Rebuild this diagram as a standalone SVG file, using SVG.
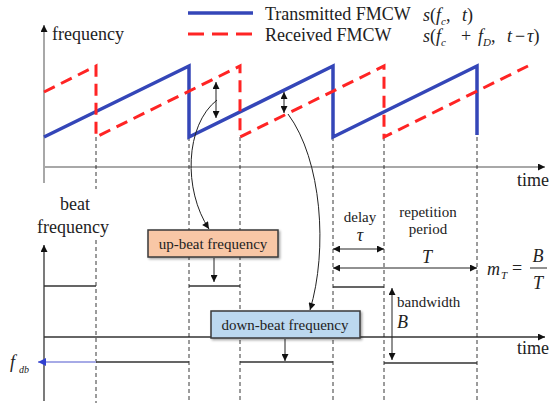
<svg xmlns="http://www.w3.org/2000/svg" width="550" height="407" viewBox="0 0 550 407">
  <defs>
    <marker id="arr" viewBox="0 0 10 10" refX="10" refY="5" markerWidth="8" markerHeight="7" markerUnits="userSpaceOnUse" orient="auto-start-reverse">
      <path d="M0,0 L10,5 L0,10 z" fill="#111"/>
    </marker>
    <marker id="arrBlue" viewBox="0 0 10 10" refX="10" refY="5" markerWidth="9" markerHeight="8" markerUnits="userSpaceOnUse" orient="auto-start-reverse">
      <path d="M0,0 L10,5 L0,10 z" fill="#3040d0"/>
    </marker>
    <filter id="shadow" x="-10%" y="-20%" width="120%" height="150%">
      <feDropShadow dx="1.5" dy="1.5" stdDeviation="1" flood-color="#000" flood-opacity="0.35"/>
    </filter>
  </defs>
  <style>
    text { font-family: "Liberation Serif", "Times New Roman", serif; fill: #222; }
    .lbl { font-size: 18px; }
    .sm { font-size: 15px; }
    .it { font-style: italic; }
    .sub { font-size: 11px; font-style: italic; }
    .axis { stroke: #333; stroke-width: 1.3; fill: none; }
    .axisGray { stroke: #a8a8a8; stroke-width: 2; fill: none; }
    .guide { stroke: #222; stroke-width: 0.9; stroke-dasharray: 4 3; fill: none; }
    .tx { stroke: #3446b8; stroke-width: 3.5; fill: none; stroke-linejoin: miter; }
    .rx { stroke: #ff2424; stroke-width: 3; fill: none; stroke-dasharray: 12 7; }
    .beat { stroke: #333; stroke-width: 1.5; fill: none; }
    .dim { stroke: #222; stroke-width: 1; fill: none; }
    .box { stroke: #3a3a3a; stroke-width: 1.5; }
  </style>

  <!-- legend -->
  <g id="legend">
    <line x1="188" y1="13" x2="253" y2="13" class="tx"/>
    <line x1="188" y1="34" x2="253" y2="34" stroke="#ff2424" stroke-width="3" stroke-dasharray="16 8"/>
    <text x="265" y="20" class="lbl">Transmitted FMCW</text>
    <text x="265" y="41" class="lbl">Received FMCW</text>
    <text y="21" class="lbl"><tspan x="423" class="it">s</tspan><tspan>(</tspan><tspan class="it">f</tspan><tspan class="sub" dy="4">c</tspan><tspan dy="-4">,</tspan><tspan x="462" class="it">t</tspan><tspan>)</tspan></text>
    <text y="42" class="lbl"><tspan x="423" class="it">s</tspan><tspan>(</tspan><tspan class="it">f</tspan><tspan class="sub" dy="4">c</tspan><tspan x="461" dy="-4">+</tspan><tspan x="478" class="it">f</tspan><tspan class="sub" dy="4">D</tspan><tspan dy="-4">,</tspan><tspan x="507" class="it">t</tspan><tspan x="515">−</tspan><tspan x="527" class="it">τ</tspan><tspan>)</tspan></text>
  </g>

  <!-- upper plot: frequency vs time -->
  <g id="freq-axes">
    <line x1="44" y1="183" x2="44" y2="25" class="axisGray" marker-end="url(#arr)"/>
    <line x1="44" y1="167" x2="545" y2="167" class="axisGray" marker-end="url(#arr)"/>
    <text x="52" y="40" class="lbl">frequency</text>
    <text x="517" y="186" class="lbl">time</text>
  </g>

  <!-- lower plot: beat frequency vs time -->
  <g id="beat-axes">
    <line x1="44" y1="401" x2="44" y2="245" class="axis" marker-end="url(#arr)"/>
    <line x1="44" y1="337" x2="545" y2="337" class="axis" marker-end="url(#arr)"/>
    <text x="75" y="210" class="lbl" text-anchor="middle">beat</text>
    <text x="73" y="233" class="lbl" text-anchor="middle">frequency</text>
    <text x="517" y="354" class="lbl">time</text>
  </g>

  <g id="connectors">
    <!-- dashed time markers -->
    <path class="guide" d="M96,137 V189 M96,240 V403 M189,137 V403 M240,137 V403 M333,137 V403 M384,137 V403 M477,137 V403"/>

    <!-- transmitted and received chirps -->
    <path class="tx" d="M44,137 L189,66 L189,137 L333,66 L333,137 L477,66 L477,135"/>
    <path class="rx" d="M44,92 L96,66 L96,137 L240,66 L240,137 L384,66 L384,137 L528,66"/>

    <!-- beat frequency differences -->
    <line x1="216" y1="82" x2="216" y2="118" class="dim" marker-start="url(#arr)" marker-end="url(#arr)"/>
    <line x1="284" y1="92" x2="284" y2="113" class="dim" marker-start="url(#arr)" marker-end="url(#arr)"/>
    <path class="dim" d="M217,100 C185,125 183,190 209,229" marker-end="url(#arr)"/>
    <path class="dim" d="M288,114 C322,160 328,250 310,310" marker-end="url(#arr)"/>

    <!-- up-beat and down-beat levels -->
    <path class="beat" d="M44,286 H96 M189,286 H240 M333,287 H384"/>
    <path class="beat" d="M96,362 H189 M240,362 H333 M384,363 H477"/>
    <line x1="96" y1="362" x2="38" y2="362" stroke="#a6aae6" stroke-width="2" marker-end="url(#arrBlue)"/>
    <line x1="214" y1="258" x2="214" y2="282" class="dim" marker-end="url(#arr)"/>
    <line x1="285" y1="339" x2="285" y2="361" class="dim" marker-end="url(#arr)"/>

    <!-- delay, period and bandwidth dimensions -->
    <line x1="333" y1="249" x2="384" y2="249" class="dim" marker-start="url(#arr)" marker-end="url(#arr)"/>
    <line x1="333" y1="268" x2="477" y2="268" class="dim" marker-start="url(#arr)" marker-end="url(#arr)"/>
    <line x1="392" y1="288" x2="392" y2="360" class="dim" marker-start="url(#arr)" marker-end="url(#arr)"/>
  </g>

  <g id="up-beat">
    <rect x="148" y="230" width="130" height="27" fill="#f8c7a6" class="box" filter="url(#shadow)"/>
    <text x="213" y="249" class="sm" text-anchor="middle">up-beat frequency</text>
  </g>

  <g id="down-beat">
    <rect x="211" y="311" width="149" height="27" fill="#bcd8ef" class="box" filter="url(#shadow)"/>
    <text x="285" y="330" class="sm" text-anchor="middle">down-beat frequency</text>
  </g>

  <g id="f-db">
    <text x="10" y="368" class="lbl it">f</text>
    <text x="19" y="373" font-size="10" class="it">db</text>
  </g>

  <g id="delay">
    <text x="360" y="222" class="sm" text-anchor="middle">delay</text>
    <text x="360" y="241" class="lbl it" text-anchor="middle">τ</text>
  </g>

  <g id="period">
    <text x="428" y="217" class="sm" text-anchor="middle">repetition</text>
    <text x="428" y="234" class="sm" text-anchor="middle">period</text>
    <text x="427" y="263" class="lbl it" text-anchor="middle">T</text>
  </g>

  <g id="bandwidth">
    <text x="397" y="307" class="sm">bandwidth</text>
    <text x="397" y="328" class="lbl it">B</text>
  </g>

  <g id="slope">
    <text x="487" y="275" class="lbl it">m</text>
    <text x="501" y="279" class="sub">T</text>
    <text x="512" y="274" class="lbl">=</text>
    <text x="538" y="262" class="lbl it" text-anchor="middle">B</text>
    <line x1="530" y1="268" x2="547" y2="268" stroke="#222" stroke-width="1"/>
    <text x="538" y="289" class="lbl it" text-anchor="middle">T</text>
  </g>
</svg>
